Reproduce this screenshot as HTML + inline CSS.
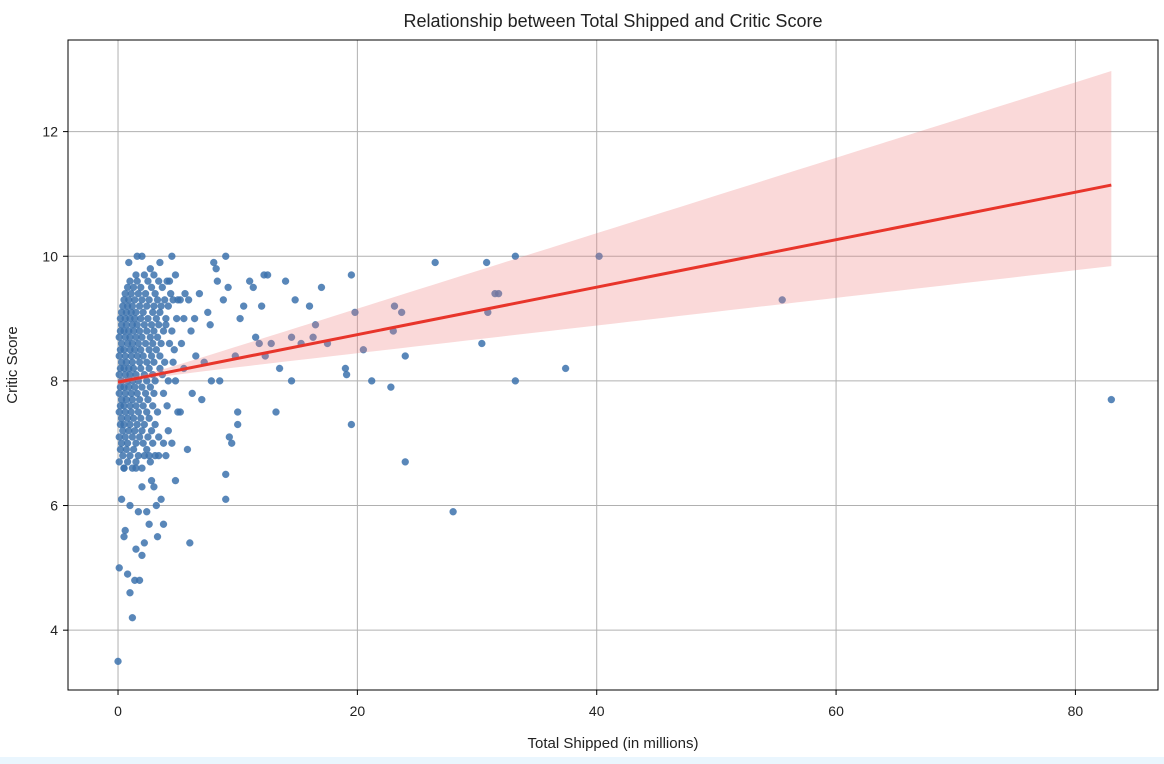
<!DOCTYPE html>
<html><head><meta charset="utf-8"><style>
body{margin:0;background:#fff;width:1164px;height:764px;overflow:hidden;font-family:"Liberation Sans","DejaVu Sans",sans-serif}
#strip{position:absolute;left:0;top:757px;width:1164px;height:7px;background:#eaf6fe}
</style></head><body>
<svg id="chart" width="1164" height="757" style="position:absolute;left:0;top:0"></svg>
<div id="strip"></div>
<script>
const xTicks=[0,20,40,60,80];
const yTicks=[4,6,8,10,12];
const regIntercept=7.98, regSlope=0.0381, regMean=1.5;
const bandUpperCoef=0.02245, bandLowerCoef=0.01595;
const games=[[83,7.7],[55.5,9.3],[40.2,10],[37.4,8.2],[33.2,10],[33.2,8],[30.8,9.9],[30.9,9.1],[30.4,8.6],[31.5,9.4],[31.8,9.4],[28,5.9],[26.5,9.9],[24,6.7],[24,8.4],[23.7,9.1],[23.1,9.2],[22.8,7.9],[23,8.8],[21.2,8],[20.5,8.5],[19.8,9.1],[19.5,9.7],[19.5,7.3],[19,8.2],[19.1,8.1],[17.5,8.6],[17,9.5],[16.5,8.9],[16,9.2],[16.3,8.7],[15.3,8.6],[14.8,9.3],[14.5,8.0],[14.5,8.7],[14,9.6],[13.5,8.2],[13.2,7.5],[12.8,8.6],[12.5,9.7],[12.2,9.7],[12.3,8.4],[12,9.2],[11.8,8.6],[11.5,8.7],[11.3,9.5],[11,9.6],[10.5,9.2],[10.2,9],[10,7.5],[10,7.3],[9.8,8.4],[9.5,7.0],[9.3,7.1],[9.2,9.5],[9,10],[9,6.5],[9,6.1],[8.8,9.3],[8.5,8],[8.3,9.6],[8.2,9.8],[8,9.9],[7.8,8],[7.7,8.9],[7.5,9.1],[7.2,8.3],[7,7.7],[6.8,9.4],[6.5,8.4],[6.4,9],[6.2,7.8],[6,5.4],[5.8,6.9],[5.5,8.2],[5,7.5],[4.5,10],[3.8,5.7],[3.5,8.2],[3.3,5.5],[3.2,6.0],[3,6.3],
[0,3.5],[0.1,5],[0.5,5.5],[0.8,4.9],[1,4.6],[1.2,4.2],[1.4,4.8],[1.8,4.8],[1.5,5.3],[2,5.2],[2.4,5.9],[2.6,5.7],[2,6.3],[1,6],[0.3,6.1],[0.5,6.6],[1.5,6.6],[2.8,6.4],[2.2,6.8],[3.1,6.8],[4.8,6.4],[1.7,5.9],[0.6,5.6],[2.2,5.4],
[1.6,10],[2,10],[3.5,9.9],[2.7,9.8],[0.9,9.9],[4.3,9.6],[5.0,9.3],[5.5,9.0],[4.0,8.9],[5.3,8.6],[6.1,8.8],[4.8,8.0],[5.2,7.5],[4.2,7.2],[3.8,7.0],[4.0,6.8],[3.6,6.1],
[1.5,9.7],[2.2,9.7],[3.0,9.7],[4.8,9.7],[1.0,9.6],[1.6,9.6],[2.5,9.6],[3.4,9.6],[4.1,9.6],[0.8,9.5],[1.3,9.5],[1.9,9.5],[2.8,9.5],[3.7,9.5],
[0.6,9.4],[1.1,9.4],[1.7,9.4],[2.3,9.4],[3.1,9.4],[4.4,9.4],[5.6,9.4],[0.5,9.3],[0.9,9.3],[1.4,9.3],[2.0,9.3],[2.6,9.3],[3.3,9.3],[3.9,9.3],[4.6,9.3],[5.2,9.3],[5.9,9.3],
[0.4,9.2],[0.8,9.2],[1.2,9.2],[1.8,9.2],[2.4,9.2],[3.0,9.2],[3.6,9.2],[4.2,9.2],[0.3,9.1],[0.7,9.1],[1.1,9.1],[1.5,9.1],[2.1,9.1],[2.9,9.1],[3.5,9.1],
[0.2,9.0],[0.6,9.0],[1.0,9.0],[1.4,9.0],[1.9,9.0],[2.5,9.0],[3.2,9.0],[4.0,9.0],[4.9,9.0],[0.3,8.9],[0.7,8.9],[1.2,8.9],[1.6,8.9],[2.2,8.9],[2.8,8.9],[3.4,8.9],
[0.2,8.8],[0.5,8.8],[0.9,8.8],[1.3,8.8],[1.8,8.8],[2.4,8.8],[3.0,8.8],[3.8,8.8],[4.5,8.8],[0.1,8.7],[0.6,8.7],[1.0,8.7],[1.5,8.7],[2.0,8.7],[2.7,8.7],[3.3,8.7],
[0.3,8.6],[0.8,8.6],[1.2,8.6],[1.7,8.6],[2.3,8.6],[2.9,8.6],[3.6,8.6],[4.3,8.6],[0.2,8.5],[0.5,8.5],[1.0,8.5],[1.4,8.5],[1.9,8.5],[2.6,8.5],[3.2,8.5],[4.7,8.5],
[0.1,8.4],[0.6,8.4],[1.1,8.4],[1.6,8.4],[2.1,8.4],[2.8,8.4],[3.5,8.4],[0.3,8.3],[0.7,8.3],[1.2,8.3],[1.8,8.3],[2.4,8.3],[3.0,8.3],[3.9,8.3],[4.6,8.3],
[0.2,8.2],[0.5,8.2],[0.9,8.2],[1.3,8.2],[1.9,8.2],[2.6,8.2],[0.1,8.1],[0.6,8.1],[1.0,8.1],[1.5,8.1],[2.2,8.1],[2.9,8.1],[3.7,8.1],
[0.3,8.0],[0.8,8.0],[1.2,8.0],[1.7,8.0],[2.4,8.0],[3.1,8.0],[4.2,8.0],[0.2,7.9],[0.5,7.9],[0.9,7.9],[1.4,7.9],[2.0,7.9],[2.7,7.9],
[0.1,7.8],[0.6,7.8],[1.1,7.8],[1.6,7.8],[2.3,7.8],[3.0,7.8],[3.8,7.8],[0.3,7.7],[0.7,7.7],[1.2,7.7],[1.8,7.7],[2.5,7.7],
[0.2,7.6],[0.5,7.6],[1.0,7.6],[1.5,7.6],[2.1,7.6],[2.9,7.6],[4.1,7.6],[0.1,7.5],[0.6,7.5],[1.1,7.5],[1.7,7.5],[2.4,7.5],[3.3,7.5],
[0.3,7.4],[0.8,7.4],[1.3,7.4],[1.9,7.4],[2.6,7.4],[0.2,7.3],[0.5,7.3],[1.0,7.3],[1.6,7.3],[2.2,7.3],[3.1,7.3],
[0.4,7.2],[0.9,7.2],[1.4,7.2],[2.0,7.2],[2.8,7.2],[0.1,7.1],[0.6,7.1],[1.2,7.1],[1.8,7.1],[2.5,7.1],[3.4,7.1],
[0.3,7.0],[0.8,7.0],[1.5,7.0],[2.1,7.0],[2.9,7.0],[4.5,7.0],[0.2,6.9],[0.7,6.9],[1.3,6.9],[2.4,6.9],
[0.4,6.8],[1.0,6.8],[1.7,6.8],[2.6,6.8],[3.4,6.8],[0.1,6.7],[0.8,6.7],[1.5,6.7],[2.7,6.7],[0.5,6.6],[1.2,6.6],[2.0,6.6]];

const NS='http://www.w3.org/2000/svg';
const svg=document.getElementById('chart');
const L=68,R=1158,T=40,B=690;
const xMin=-4.18,xMax=86.9,yMin=3.04,yMax=13.47;
function sx(v){return L+(v-xMin)/(xMax-xMin)*(R-L);}
function sy(v){return B-(v-yMin)/(yMax-yMin)*(B-T);}
function el(tag,attrs,parent){const e=document.createElementNS(NS,tag);for(const k in attrs)e.setAttribute(k,attrs[k]);(parent||svg).appendChild(e);return e;}

xTicks.forEach(t=>{const g=el('line',{x1:sx(t),x2:sx(t),y1:T,y2:B,stroke:'#b0b0b0','stroke-width':1});

});
yTicks.forEach(t=>{const g=el('line',{x1:L,x2:R,y1:sy(t),y2:sy(t),stroke:'#b0b0b0','stroke-width':1});

});

const pg=el('g',{});


games.forEach(p=>{const c=el('circle',{cx:sx(p[0]),cy:sy(p[1]),r:3.5,fill:'#3c72ad','fill-opacity':0.85,stroke:'#3c72ad','stroke-opacity':0.5,'stroke-width':0.5},pg);

});

const xs0=0,xs1=83;let up=[],lo=[];
for(let i=0;i<=60;i++){const x=xs0+(xs1-xs0)*i/60;const yv=regIntercept+regSlope*x;const d=(x-regMean);
const hu=Math.sqrt(0.0016+bandUpperCoef*bandUpperCoef*d*d);const hl=Math.sqrt(0.0016+bandLowerCoef*bandLowerCoef*d*d);
up.push(sx(x)+','+sy(yv+hu));lo.unshift(sx(x)+','+sy(yv-hl));}
const band=el('polygon',{points:up.concat(lo).join(' '),fill:'#f08080','fill-opacity':0.3});


const rl=el('line',{x1:sx(xs0),y1:sy(regIntercept),x2:sx(xs1),y2:sy(regIntercept+regSlope*xs1),stroke:'#e8352b','stroke-width':3});



const fr=el('rect',{x:L,y:T,width:R-L,height:B-T,fill:'none',stroke:'#000','stroke-width':1});


xTicks.forEach(t=>{el('line',{x1:sx(t),x2:sx(t),y1:B,y2:B+5,stroke:'#000'});
const tx=el('text',{x:sx(t),y:B+26,'text-anchor':'middle','font-size':14,fill:'#222'});tx.textContent=t;

});
yTicks.forEach(t=>{el('line',{x1:L-5,x2:L,y1:sy(t),y2:sy(t),stroke:'#000'});
const tx=el('text',{x:L-10,y:sy(t)+5,'text-anchor':'end','font-size':14,fill:'#222'});tx.textContent=t;

});
const title=el('text',{x:613,y:27,'text-anchor':'middle','font-size':18,fill:'#222'});title.textContent='Relationship between Total Shipped and Critic Score';


const xl=el('text',{x:613,y:748,'text-anchor':'middle','font-size':15,fill:'#222'});xl.textContent='Total Shipped (in millions)';


const yl=el('text',{x:0,y:0,'text-anchor':'middle','font-size':15,fill:'#222',transform:'translate(17,365) rotate(-90)'});yl.textContent='Critic Score';


</script>
</body></html>
